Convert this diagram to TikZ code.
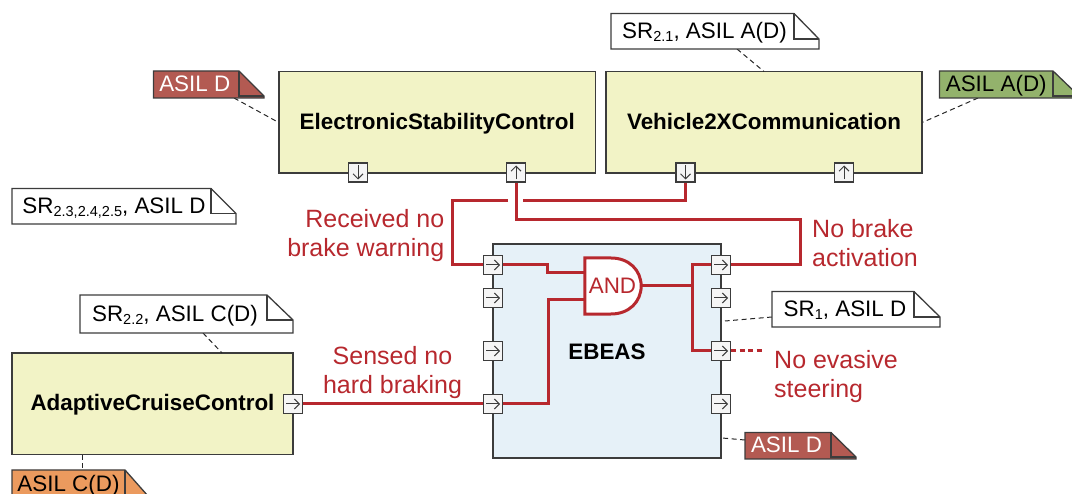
\documentclass[tikz,border=0pt]{standalone}
\usepackage{fontspec}
\setmainfont{Liberation Sans}
\usetikzlibrary{arrows.meta,calc}
\definecolor{wire}{HTML}{B7282E}
\definecolor{linecol}{HTML}{3C3C3C}
\definecolor{blockfill}{HTML}{F2F3C6}
\definecolor{ebeasfill}{HTML}{E6F1F8}
\definecolor{redfill}{HTML}{B35A52}
\definecolor{greenfill}{HTML}{93B26C}
\definecolor{orangefill}{HTML}{EB9A5E}
\newcommand{\sbs}[1]{{\fontsize{14.5}{15}\selectfont\raisebox{-3.5pt}{#1}}}
\newcommand{\notebox}[9]{%
  \path[notepath,#8] (#2,#3) -- (#6,#3) -- (#4,#7) -- (#4,#5) -- (#2,#5) -- cycle;
  \draw[notepath] (#6,#3) -- (#6,#7) -- (#4,#7);
  \node[notetext,#8,fill=none,draw=none] (#1) at ({(#2+#6)/2},{(#3+#5)/2+1.2}) {#9};
}
\newcommand{\portbox}[4]{%
  \node[portnode] (#1) at (#2) {};
  \draw[portarrow] ($(#1)-(#3,#4)$) -- ($(#1)+(#3,#4)$);
}
\tikzset{
  notepath/.style={draw=linecol,line width=1.3pt,line join=miter},
  notetext/.style={font=\fontsize{22.4}{26}\selectfont,inner sep=0pt,text height=16pt,text depth=4pt},
  blocknode/.style={draw=linecol,line width=1.5pt,fill=blockfill,inner sep=0pt,text height=19pt,text depth=5pt,font=\fontsize{22.4}{26}\selectfont\bfseries},
  portnode/.style={draw=linecol,line width=1.2pt,fill=white!96!black,minimum width=19pt,minimum height=19pt,inner sep=0pt},
  portarrow/.style={draw=linecol,line width=1pt,-{Straight Barb[length=5pt,width=10pt]}},
  wireline/.style={draw=wire,line width=3pt,line join=miter},
  redlabel/.style={text=wire,font=\fontsize{25}{29}\selectfont,inner sep=0pt},
  dashline/.style={draw=black!85,line width=1pt,dash pattern=on 5pt off 3.5pt},
}
\begin{document}
\begin{tikzpicture}[x=1pt,y=-1pt]
\useasboundingbox (0,0) rectangle (1072,494);
\clip (0,0) rectangle (1072,494);
% blocks
\node[blocknode,minimum width=316.5pt,minimum height=101.5pt] (esc) at (437.25,122.25) {ElectronicStabilityControl};
\node[blocknode,minimum width=316pt,minimum height=101.5pt] (v2x) at (764,122.25) {Vehicle2XCommunication};
\node[blocknode,minimum width=281pt,minimum height=101.5pt] (acc) at (152.5,404) {AdaptiveCruiseControl};
\node[draw=linecol,line width=1.5pt,fill=ebeasfill,minimum width=228pt,minimum height=214pt,inner sep=0pt] (ebeas) at (607,351) {};
\node[font=\fontsize{22.4}{26}\selectfont\bfseries,inner sep=0pt] (ebeaslabel) at (607,351.5) {EBEAS};
% dashed anchors
\coordinate (d1a) at (234,98);
\coordinate (d2a) at (737,49);
\coordinate (d2b) at (764,71.5);
\coordinate (d3a) at (978,98);
\coordinate (d4a) at (203,333);
\coordinate (d4b) at (222,353);
\coordinate (d5a) at (82,455);
\coordinate (d5b) at (82,470);
\coordinate (d6a) at (772,317);
\coordinate (d6b) at (725,321);
\coordinate (d7a) at (745,440);
\coordinate (d7b) at (722,438);
\draw[dashline] (d1a) -- (esc.west);
\draw[dashline] (d2a) -- (d2b);
\draw[dashline] (d3a) -- (v2x.east);
\draw[dashline] (d4a) -- (d4b);
\draw[dashline] (d5a) -- (d5b);
\draw[dashline] (d6a) -- (d6b);
\draw[dashline] (d7a) -- (d7b);
% notes
\notebox{n1}{153.5}{71}{264}{98}{239}{96}{fill=redfill,text=white}{\hspace*{-3pt}ASIL D}
\notebox{n2}{12}{188.5}{236}{224}{211}{213.5}{fill=white,text=black}{\hspace*{5pt}SR\sbs{2.3,2.4,2.5}, ASIL D}
\notebox{n3}{80}{295}{293}{333}{267}{320}{fill=white,text=black}{\hspace*{3pt}SR\sbs{2.2}, ASIL C(D)}
\notebox{n4}{12}{470}{148}{498}{125}{496}{fill=orangefill,text=black}{ASIL C(D)}
\notebox{n5}{611}{13.5}{819}{49}{794}{39}{fill=white,text=black}{\hspace*{4pt}SR\sbs{2.1}, ASIL A(D)}
\notebox{n6}{939.5}{71}{1079}{98}{1053}{96}{fill=greenfill,text=black}{ASIL A(D)}
\notebox{n7}{772}{291.5}{940}{327}{914}{317}{fill=white,text=black}{\hspace*{4pt}SR\sbs{1}, ASIL D}
\notebox{n8}{745}{432.5}{856}{459}{831}{457}{fill=redfill,text=white}{\hspace*{-3pt}ASIL D}
% ports
\portbox{pa}{358,172.5}{0}{7}
\portbox{pb}{516,172.5}{0}{-7}
\portbox{pc}{685.5,172.5}{0}{7}
\portbox{pd}{844,172.5}{0}{-7}
\portbox{pe}{293,404}{7}{0}
\portbox{l1}{493,265}{7}{0}
\portbox{l2}{493,298}{7}{0}
\portbox{l3}{493,351}{7}{0}
\portbox{l4}{493,404}{7}{0}
\portbox{r1}{721,265}{7}{0}
\portbox{r2}{721,298}{7}{0}
\portbox{r3}{721,351}{7}{0}
\portbox{r4}{721,404}{7}{0}
% AND gate
\node[inner sep=0pt,minimum width=56pt,minimum height=56pt] (gate) at (613,286) {};
\draw[wireline,fill=white] (gate.north west) -- (611,258) .. controls (629,258) and (641,270) .. (gate.east) .. controls (641,302) and (629,314) .. (611,314) -- (gate.south west) -- cycle;
\node[text=wire,font=\fontsize{22.4}{26}\selectfont,inner sep=0pt] (andtxt) at (612.5,286) {AND};
% wires
\coordinate (in1) at (585,273);
\coordinate (in2) at (585,300);
\coordinate (gapa) at (523,201);
\coordinate (gapb) at (508,201);
\coordinate (junc) at (692,286);
\coordinate (k1) at (452,265);
\coordinate (k2) at (547,265);
\coordinate (k3) at (548,404);
\coordinate (k4) at (692,265);
\coordinate (k5) at (800,265);
\coordinate (k6) at (516,220);
\coordinate (dotend) at (762,351);
\draw[wireline] (pc.south) |- (gapa);
\draw[wireline] (gapb) -| (k1) -- (l1.west);
\draw[wireline] (l1.east) -- (k2) |- (in1);
\draw[wireline] (in2) -| (k3) -- (l4.east);
\draw[wireline] (pe.east) -- (l4.west);
\draw[wireline] (gate.east) -- (junc);
\draw[wireline] (r1.west) -- (k4) |- (r3.west);
\draw[wireline] (r1.east) -- (k5) |- (k6) -- (pb.south);
\draw[draw=wire,line width=3pt,dash pattern=on 5pt off 3.5pt] (r3.east) -- (dotend);
% labels
\node[redlabel,align=right,anchor=east] (t1) at (444.5,235.5) {Received no\\brake warning};
\node[redlabel,align=center] (t2) at (392.5,372.5) {Sensed no\\hard braking};
\node[redlabel,align=left,anchor=west] (t3) at (812,243) {No brake\\activation};
\node[redlabel,align=left,anchor=west] (t4) at (774,376.5) {No evasive\\steering};
\end{tikzpicture}
\end{document}
